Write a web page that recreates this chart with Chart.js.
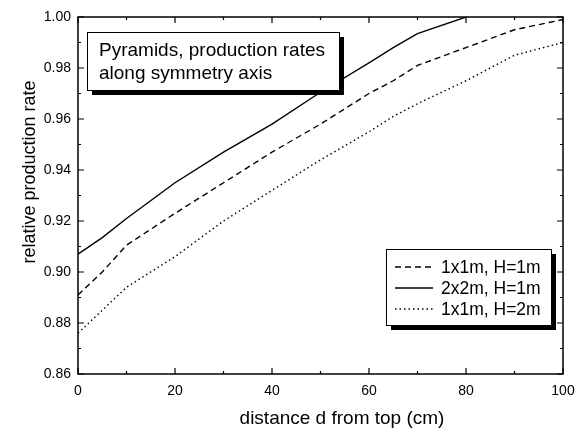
<!DOCTYPE html>
<html>
<head>
<meta charset="utf-8">
<script src="https://cdn.jsdelivr.net/npm/chart.js@4"></script>
<style>
  html, body { margin: 0; padding: 0; background: #fff; }
  #wrap { width: 587px; height: 430px; }
</style>
</head>
<body>
<div id="wrap"><canvas id="prodChart" width="587" height="430"></canvas></div>
<script>
// distance d from top (cm)
const distance = [0, 5, 10, 20, 30, 40, 50, 60, 65, 70, 80, 90, 100];

// relative production rate per configuration
const rate1x1H1 = [0.891, 0.900, 0.9105, 0.923, 0.935, 0.947, 0.958, 0.970, 0.975, 0.981, 0.988, 0.995, 0.999];
const rate2x2H1 = [0.907, 0.9135, 0.921, 0.935, 0.947, 0.958, 0.9705, 0.982, 0.988, 0.9935, 1.000, null, null];
const rate1x1H2 = [0.876, 0.885, 0.894, 0.906, 0.920, 0.932, 0.944, 0.955, 0.961, 0.966, 0.975, 0.985, 0.990];

const seriesLabels = ['1x1m, H=1m', '2x2m, H=1m', '1x1m, H=2m'];
const infoLines = ['Pyramids, production rates', 'along symmetry axis'];

const xTitle = 'distance d from top (cm)';
const yTitle = 'relative production rate';

const FONT = "'Liberation Sans', Arial, sans-serif";

const toPoints = (ys) => distance.map((x, i) => ({ x: x, y: ys[i] }));

// frame, inward ticks on all four sides, axis titles, info box, legend box
const framePlugin = {
  id: 'framePlugin',
  afterDraw(chart) {
    const { ctx, chartArea: a, scales } = chart;
    const xs = scales.x, ys = scales.y;
    ctx.save();
    ctx.strokeStyle = '#000';
    ctx.lineWidth = 1.5;
    ctx.strokeRect(a.left, a.top, a.right - a.left, a.bottom - a.top);

    ctx.lineWidth = 1.2;
    ctx.beginPath();
    for (let v = 0; v <= 100; v += 10) {
      const px = xs.getPixelForValue(v);
      const len = v % 20 === 0 ? 6 : 3;
      ctx.moveTo(px, a.bottom); ctx.lineTo(px, a.bottom - len);
      ctx.moveTo(px, a.top); ctx.lineTo(px, a.top + len);
    }
    for (let i = 0; i <= 14; i++) {
      const v = 0.86 + i * 0.01;
      const py = ys.getPixelForValue(v);
      const len = i % 2 === 0 ? 6 : 3;
      ctx.moveTo(a.left, py); ctx.lineTo(a.left + len, py);
      ctx.moveTo(a.right, py); ctx.lineTo(a.right - len, py);
    }
    ctx.stroke();

    // axis titles
    ctx.fillStyle = '#000';
    ctx.textBaseline = 'alphabetic';
    ctx.textAlign = 'center';
    ctx.font = '19px ' + FONT;
    ctx.fillText(xTitle, 342, 424);
    ctx.save();
    ctx.translate(35, 172);
    ctx.rotate(-Math.PI / 2);
    ctx.font = '18px ' + FONT;
    ctx.fillText(yTitle, 0, 0);
    ctx.restore();

    // box with drop shadow
    const drawBox = (x, y, w, h) => {
      ctx.fillStyle = '#000';
      ctx.fillRect(x + 5, y + 5, w, h);
      ctx.fillStyle = '#fff';
      ctx.fillRect(x, y, w, h);
      ctx.lineWidth = 1;
      ctx.strokeStyle = '#000';
      ctx.strokeRect(x + 0.5, y + 0.5, w, h);
    };

    drawBox(87, 32, 252, 58);
    ctx.fillStyle = '#000';
    ctx.font = '19px ' + FONT;
    ctx.textAlign = 'left';
    ctx.fillText(infoLines[0], 99, 56);
    ctx.fillText(infoLines[1], 99, 79);

    // legend
    drawBox(386, 249, 165, 76);
    chart.data.datasets.forEach((ds, row) => {
      const cy = 267 + row * 21;
      ctx.strokeStyle = '#000';
      ctx.lineWidth = ds.borderWidth;
      ctx.setLineDash(ds.borderDash || []);
      ctx.beginPath();
      ctx.moveTo(395, cy);
      ctx.lineTo(433, cy);
      ctx.stroke();
      ctx.setLineDash([]);
      ctx.fillStyle = '#000';
      ctx.font = '17.5px ' + FONT;
      ctx.textBaseline = 'middle';
      ctx.fillText(ds.label, 441, cy + 1);
    });
    ctx.restore();
  }
};

new Chart(document.getElementById('prodChart'), {
  type: 'line',
  data: {
    datasets: [
      {
        label: seriesLabels[0],
        data: toPoints(rate1x1H1),
        borderColor: '#000',
        borderWidth: 1.4,
        borderDash: [6, 4],
        pointRadius: 0,
        tension: 0
      },
      {
        label: seriesLabels[1],
        data: toPoints(rate2x2H1),
        borderColor: '#000',
        borderWidth: 1.4,
        pointRadius: 0,
        tension: 0
      },
      {
        label: seriesLabels[2],
        data: toPoints(rate1x1H2),
        borderColor: '#000',
        borderWidth: 1.4,
        borderDash: [1.5, 3],
        pointRadius: 0,
        tension: 0
      }
    ]
  },
  options: {
    responsive: false,
    animation: false,
    layout: { padding: { left: 0, right: 24, top: 17, bottom: 0 } },
    plugins: {
      legend: { display: false },
      tooltip: { enabled: false }
    },
    scales: {
      x: {
        type: 'linear',
        min: 0,
        max: 100,
        grid: { display: false, drawTicks: false },
        border: { display: false },
        ticks: {
          stepSize: 20,
          padding: 9,
          color: '#000',
          font: { family: FONT, size: 14 },
          maxRotation: 0
        },
        afterFit(scale) { scale.height = 56; }
      },
      y: {
        min: 0.86,
        max: 1.00,
        grid: { display: false, drawTicks: false },
        border: { display: false },
        ticks: {
          stepSize: 0.02,
          padding: 7,
          color: '#000',
          font: { family: FONT, size: 14 },
          callback: (v) => v.toFixed(2)
        },
        afterFit(scale) { scale.width = 78; }
      }
    }
  },
  plugins: [framePlugin]
});
</script>
</body>
</html>
